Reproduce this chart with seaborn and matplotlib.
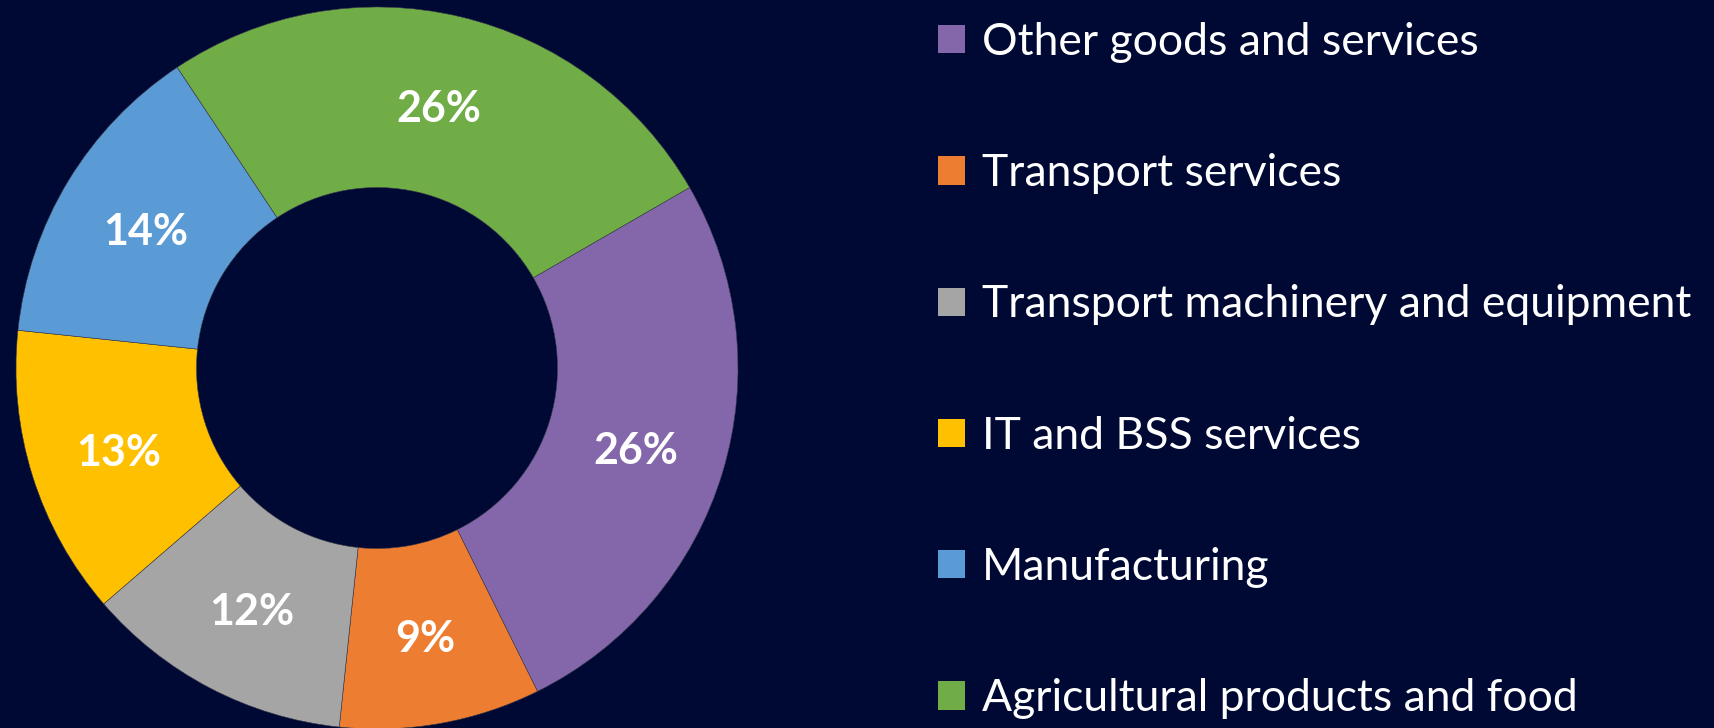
import matplotlib
matplotlib.use("Agg")
import matplotlib.pyplot as plt
from matplotlib.patches import Patch
import seaborn as sns

# data (clockwise order, as in the legend)
categories = ['Other goods and services', 'Transport services',
              'Transport machinery and equipment', 'IT and BSS services',
              'Manufacturing', 'Agricultural products and food']
shares = [26, 9, 12, 13, 14, 26]
colors = ['#8467AB', '#ED7D31', '#A5A5A5', '#FFC000', '#5B9BD5', '#70AD47']

BG = '#000933'


def generate_chart():
    sns.set_style("white")
    plt.rcParams['font.family'] = ['Lato', 'DejaVu Sans']

    fig = plt.figure(figsize=(17.14, 7.28), dpi=100, facecolor=BG)
    W, H = 1714, 728
    cx, cy, r = 377, 368, 361
    ax = fig.add_axes([(cx - r) / W, (H - cy - r) / H, 2 * r / W, 2 * r / H])
    ax.set_facecolor(BG)

    wedges, texts, autotexts = ax.pie(
        shares, colors=colors, startangle=30, counterclock=False,
        radius=1.0, autopct='%1.0f%%', pctdistance=0.75,
        wedgeprops=dict(width=0.5, edgecolor='#3a3a4a', linewidth=0.4),
        textprops=dict(color='white', fontsize=31, fontweight='bold'))
    # labels sit a touch lower than the ring middle in the original
    for t in autotexts:
        t.set_y(t.get_position()[1] - 0.012)
    ax.set_xlim(-1, 1)
    ax.set_ylim(-1, 1)
    ax.set_aspect('equal')
    ax.axis('off')

    handles = [Patch(facecolor=c, edgecolor='none') for c in colors]
    fig.legend(handles, categories, loc='upper left',
               bbox_to_anchor=(938 / W, 1 - 22 / H), frameon=False,
               fontsize=32, labelcolor='white',
               handlelength=0.6, handleheight=0.6, handletextpad=0.38,
               labelspacing=2.03, borderpad=0, borderaxespad=0)

    fig.savefig('out.png', dpi=100, facecolor=BG)
    plt.close(fig)


if __name__ == "__main__":
    generate_chart()
